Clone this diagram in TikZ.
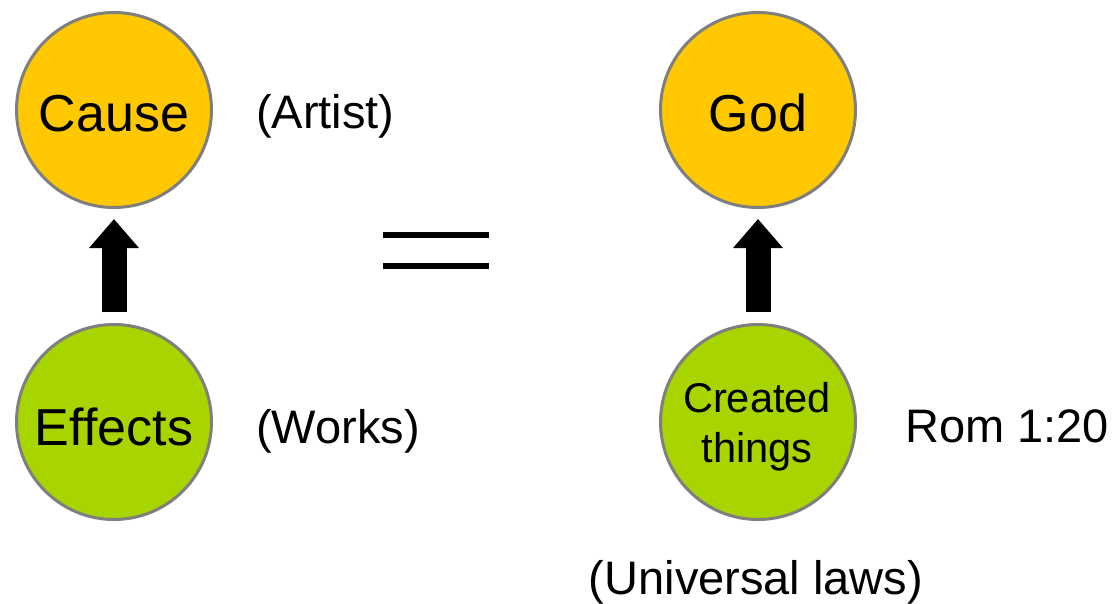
\documentclass[tikz,border=0pt]{standalone}
\usepackage{fontspec}
\setmainfont{Liberation Sans}
\usetikzlibrary{arrows.meta}
\definecolor{causeY}{HTML}{FFC800}
\definecolor{effG}{HTML}{A8D400}
\definecolor{ringG}{HTML}{7F7F7F}
\tikzset{
  ball/.style={circle, draw=ringG, line width=3pt, minimum size=195pt, inner sep=0pt},
  big/.style={font=\fontsize{52}{62}\selectfont, inner sep=0pt},
  lab/.style={font=\fontsize{47}{56}\selectfont, inner sep=0pt},
  small/.style={font=\fontsize{41.6}{50}\selectfont, inner sep=0pt, align=center},
  uparrow/.style={line width=25pt, -{Triangle[width=48pt,length=29pt]}, shorten <=11pt, shorten >=10pt},
  eqline/.style={line width=6pt}
}
\begin{document}
\begin{tikzpicture}[x=1pt,y=-1pt]
\useasboundingbox (0,0) rectangle (1118,604);
\node[ball, fill=causeY] (cause) at (114,110) {};
\node[ball, fill=effG] (eff) at (114,422) {};
\node[ball, fill=causeY] (god) at (758,110) {};
\node[ball, fill=effG] (ct) at (758,422) {};
\node[big, anchor=base] (tcause) at (114,132) {Cause};
\node[big, anchor=base] (teff) at (114,445) {Effects};
\node[big, anchor=base] (tgod) at (758,132) {God};
\node[small] (tct) at (757,427) {Created\\things};
\node[lab, anchor=base west] (artist) at (256,129) {(Artist)};
\node[lab, anchor=base west] (works) at (256,443) {(Works)};
\node[lab, anchor=base west] (rom) at (905,442) {Rom 1:20};
\node[lab, anchor=base] (univ) at (756,594) {(Universal laws)};
\draw[uparrow] (eff) -- (cause);
\draw[uparrow] (ct) -- (god);
\coordinate (e1a) at (383,235);
\coordinate (e1b) at (489,235);
\coordinate (e2a) at (383,265.5);
\coordinate (e2b) at (489,265.5);
\draw[eqline] (e1a) -- (e1b);
\draw[eqline] (e2a) -- (e2b);
\end{tikzpicture}
\end{document}
